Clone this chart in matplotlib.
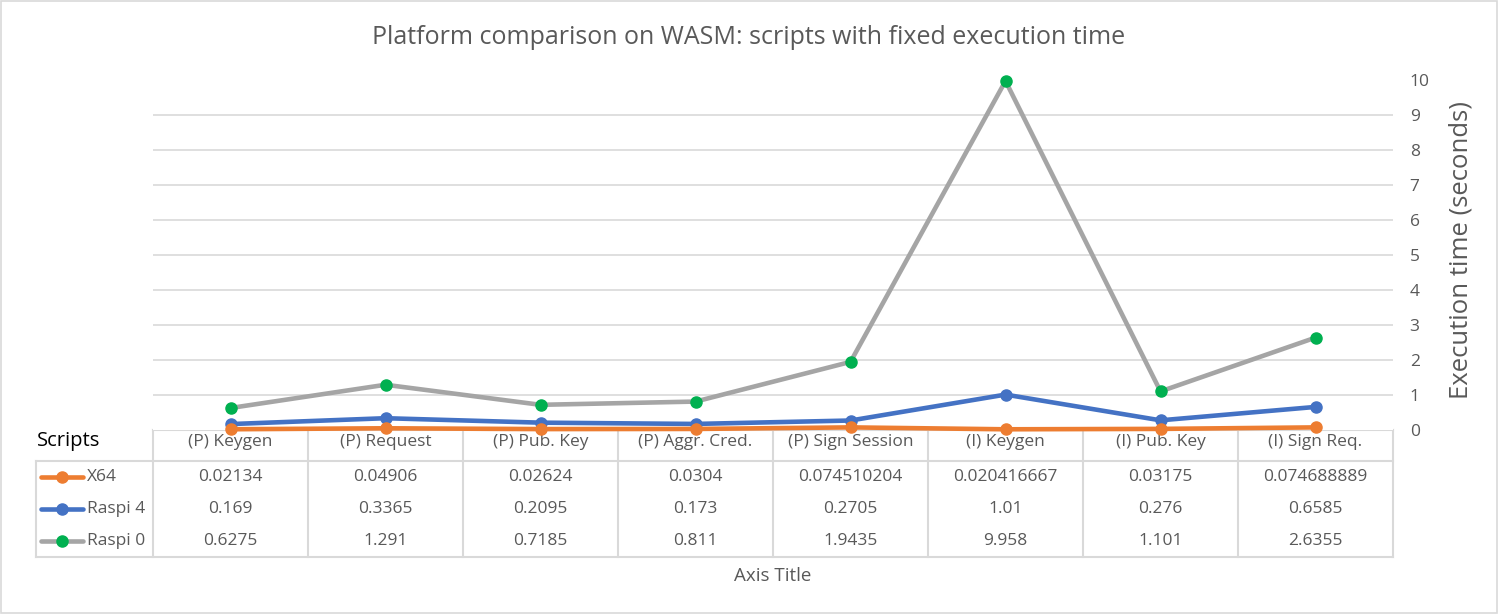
import matplotlib.pyplot as plt
from matplotlib.lines import Line2D
from matplotlib.patches import Rectangle

plt.rcParams["font.family"] = ["Open Sans", "DejaVu Sans"]

scripts = ["(P) Keygen", "(P) Request", "(P) Pub. Key", "(P) Aggr. Cred.",
           "(P) Sign Session", "(I) Keygen", "(I) Pub. Key", "(I) Sign Req."]
x64 = [0.02134, 0.04906, 0.02624, 0.0304, 0.074510204, 0.020416667, 0.03175, 0.074688889]
raspi4 = [0.169, 0.3365, 0.2095, 0.173, 0.2705, 1.01, 0.276, 0.6585]
raspi0 = [0.6275, 1.291, 0.7185, 0.811, 1.9435, 9.958, 1.101, 2.6355]
series_names = ["X64", "Raspi 4", "Raspi 0"]
y_ticks = list(range(0, 11))

W, H = 1498, 614
TXT = "#595959"
GRID = "#D9D9D9"
line_cols = ["#ED7D31", "#4472C4", "#A5A5A5"]
mark_cols = ["#ED7D31", "#4472C4", "#00B050"]
FS = 12.5

# plot area in pixels
x0, x1 = 153, 1393
y_zero, y_top = 430, 79.5

fig = plt.figure(figsize=(W / 100, H / 100), dpi=100)
ax = fig.add_axes([x0 / W, 1 - y_zero / H, (x1 - x0) / W, (y_zero - y_top) / H])
n = len(scripts)
ax.set_xlim(-0.5, n - 0.5)
ax.set_ylim(0, 10)
for s in ax.spines.values():
    s.set_visible(False)
ax.set_xticks([])
ax.yaxis.tick_right()
ax.set_yticks(y_ticks)
ax.tick_params(axis="y", length=0, pad=12, labelsize=FS, labelcolor=TXT)
for v in y_ticks[1:]:
    ax.axhline(v, color=GRID, lw=1.2, zorder=0)

all_series = [x64, raspi4, raspi0]
xs = list(range(n))
for vals, lc, mc in zip(all_series[::-1], line_cols[::-1], mark_cols[::-1]):
    ax.plot(xs, vals, color=lc, lw=3.3, marker="o", ms=8, mfc=mc, mec=mc,
            clip_on=False, zorder=3, solid_capstyle="round")

# overlay axes in pixel coordinates for title, data table and border
ov = fig.add_axes([0, 0, 1, 1], zorder=-1)
ov.set_xlim(0, W)
ov.set_ylim(H, 0)
ov.axis("off")
ov.add_patch(Rectangle((0.5, 0.5), W - 2, H - 2, fill=False, ec=GRID, lw=1.2))

ov.text(W / 2, 38, "Platform comparison on WASM: scripts with fixed execution time",
        ha="center", va="center", fontsize=18, color=TXT)
ov.text(1461, 250, "Execution time (seconds)", rotation=90, ha="center",
        va="center", fontsize=18.5, color=TXT)

col_w = (x1 - x0) / n
hdr_top, row_top, tab_bot = 430, 461, 557
tab_left = 36
row_h = (tab_bot - row_top) / 3

# table grid
ov.plot([x0, x1], [hdr_top, hdr_top], color=GRID, lw=1.5)
ov.plot([tab_left, x1], [row_top, row_top], color=GRID, lw=1.5)
ov.plot([tab_left, x1], [tab_bot, tab_bot], color=GRID, lw=1.5)
ov.plot([tab_left, tab_left], [row_top, tab_bot], color=GRID, lw=1.5)
for i in range(n + 1):
    xx = x0 + i * col_w
    ov.plot([xx, xx], [hdr_top, tab_bot], color=GRID, lw=1.5)

ov.text(37, 441, "Scripts", ha="left", va="center", fontsize=14.5, color="black")
for i, name in enumerate(scripts):
    ov.text(x0 + (i + 0.5) * col_w, 442, name, ha="center", va="center",
            fontsize=FS, color=TXT)

for r, (name, vals) in enumerate(zip(series_names, all_series)):
    yy = row_top + (r + 0.5) * row_h
    ov.add_line(Line2D([41, 83], [yy, yy], color=line_cols[r], lw=3.3,
                       solid_capstyle="round"))
    ov.plot([62], [yy], marker="o", ms=8, color=mark_cols[r])
    ov.text(87, yy, name, ha="left", va="center", fontsize=FS, color=TXT)
    for i, v in enumerate(vals):
        ov.text(x0 + (i + 0.5) * col_w, yy, str(v), ha="center", va="center",
                fontsize=FS, color=TXT)

ov.text((x0 + x1) / 2, 576, "Axis Title", ha="center", va="center",
        fontsize=13.5, color=TXT)

fig.savefig("out.png", dpi=100)
